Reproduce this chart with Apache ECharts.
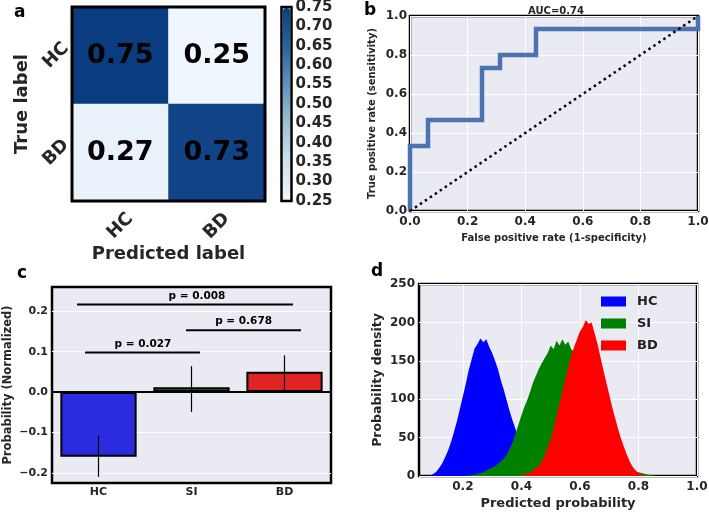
<!DOCTYPE html>
<html><head><meta charset="utf-8">
<script src="https://cdn.jsdelivr.net/npm/echarts@6/dist/echarts.min.js"></script>
<style>html,body{margin:0;padding:0;background:#fff}#c{width:709px;height:513px}</style>
</head><body><div id="c"></div>
<script>
// ---------- Panel a: confusion matrix ----------
const cmLabels = ['HC', 'BD'];
const cmRowHC = [0.75, 0.25];   // true HC -> predicted HC, BD
const cmRowBD = [0.27, 0.73];   // true BD -> predicted HC, BD
const cbMin = 0.25, cbMax = 0.75, cbStep = 0.05;

// ---------- Panel b: ROC ----------
const rocFpr = [0, 0, 0.0625, 0.0625, 0.25, 0.25, 0.3125, 0.3125, 0.4375, 0.4375, 1, 1];
const rocTpr = [0, 0.333, 0.333, 0.467, 0.467, 0.733, 0.733, 0.8, 0.8, 0.933, 0.933, 1];
const aucText = 'AUC=0.74';

// ---------- Panel c: bars ----------
const groups = ['HC', 'SI', 'BD'];
const probMeans = [-0.16, 0.012, 0.05];
const errLow = [-0.21, -0.049, 0.006];
const errHigh = [-0.108, 0.064, 0.091];
const sigText = ['p = 0.027', 'p = 0.678', 'p = 0.008'];
const sigFrom = [-0.145, 0.941, -0.231];
const sigTo = [1.091, 2.177, 2.091];
const sigLevel = [0.098, 0.153, 0.217];
const sigTextAt = [0.478, 1.56, 1.059];
const cTicks = [-0.2, -0.1, 0, 0.1, 0.2];

// ---------- Panel d: histograms ----------
const probBins = [0.08,0.09,0.10,0.11,0.12,0.13,0.14,0.15,0.16,0.17,0.18,0.19,0.20,0.21,0.22,0.23,0.24,0.25,0.26,0.27,
  0.28,0.29,0.30,0.31,0.32,0.33,0.34,0.35,0.36,0.37,0.38,0.39,0.40,0.41,0.42,0.43,0.44,0.45,0.46,0.47,
  0.48,0.49,0.50,0.51,0.52,0.53,0.54,0.55,0.56,0.57,0.58,0.59,0.60,0.61,0.62,0.63,0.64,0.65,0.66,0.67,
  0.68,0.69,0.70,0.71,0.72,0.73,0.74,0.75,0.76,0.77,0.78,0.79,0.80,0.81,0.82,0.83,0.84,0.85,0.86,0.87];
const hcDensity = [0,1,3,6,11,17,25,34,45,58,72,88,104,120,138,152,166,172,179,174,
  178,168,160,150,139,124,112,98,84,72,61,50,40,31,23,17,12,8,5,3,
  2,1,0,0,0,0,0,0,0,0,0,0,0,0,0,0,0,0,0,0,
  0,0,0,0,0,0,0,0,0,0,0,0,0,0,0,0,0,0,0,0];
const siDensity = [0,0,0,0,0,0,0,0,0,0,0,0,0,0,1,1,2,3,4,5,
  7,9,11,13,16,19,23,28,35,44,55,67,79,90,99,110,122,131,140,147,
  154,160,170,165,176,170,178,171,175,165,162,155,148,138,128,116,104,92,80,68,
  58,48,40,33,27,22,18,15,12,10,8,6,5,4,3,2,1,1,0,0];
const bdDensity = [0,0,0,0,0,0,0,0,0,0,0,0,0,0,0,0,0,0,0,0,
  0,0,0,0,0,0,0,0,0,0,0,0,1,2,3,5,7,10,14,19,
  27,37,48,62,78,94,110,127,142,156,168,178,188,194,203,198,200,186,172,155,
  138,122,106,90,76,62,49,38,28,19,12,7,4,2,1,0,0,0,0,0];
const histNames = ['HC', 'SI', 'BD'];
const dTicks = [0.2, 0.4, 0.6, 0.8, 1.0];

// ---------- styles ----------
const FF = 'DejaVu Sans';
const txt = (s, c) => ({ fontFamily: FF, fontWeight: 'bold', fontSize: s, color: c || '#262626' });
const BG = '#eaeaf2';
const WHITE_GRID = { show: true, lineStyle: { color: '#ffffff', width: 1 } };
const barColors = ['#2b2be0', '#1e7a1e', '#e02424'];
const histColors = ['#0000ff', '#008000', '#ff0000'];
const noLine = { show: false };

const heatData = [];
[cmRowHC, cmRowBD].forEach((row, i) => row.forEach((v, j) => heatData.push([j, i, v])));

const histSeries = [hcDensity, siDensity, bdDensity].map((dens, k) => ({
  type: 'line', name: histNames[k], xAxisIndex: 5, yAxisIndex: 4, symbol: 'none', color: histColors[k],
  data: probBins.map((x, i) => [x, dens[i]]),
  lineStyle: { width: 0, opacity: 0 }, areaStyle: { color: histColors[k], opacity: 1 }
}));

const chart = echarts.init(document.getElementById('c'), null, { renderer: 'canvas' });
chart.setOption({
  animation: false,
  backgroundColor: '#ffffff',
  title: [
    { text: 'a', left: 14, top: 4, padding: 0, textStyle: txt(17, '#000') },
    { text: 'b', left: 364, top: 2, padding: 0, textStyle: txt(17, '#000') },
    { text: 'c', left: 17, top: 265, padding: 0, textStyle: txt(17, '#000') },
    { text: 'd', left: 371, top: 263, padding: 0, textStyle: txt(17, '#000') },
    { text: aucText, left: 528, top: 6, padding: 0, textStyle: txt(10, '#262626') }
  ],
  grid: [
    { left: 72, top: 7, width: 193, height: 194, show: true, borderColor: '#000', borderWidth: 3, backgroundColor: 'transparent', z: 10, outerBoundsMode: 'none' },
    { left: 281.5, top: 7, width: 10, height: 194, show: true, borderColor: '#000', borderWidth: 2.5, backgroundColor: 'transparent', z: 10, outerBoundsMode: 'none' },
    { left: 410, top: 16, width: 288, height: 195, show: true, borderColor: '#000', borderWidth: 2.5, backgroundColor: BG, outerBoundsMode: 'none' },
    { left: 52, top: 287, width: 279, height: 196, show: true, borderColor: '#000', borderWidth: 2.5, backgroundColor: BG, outerBoundsMode: 'none' },
    { left: 419, top: 284, width: 278, height: 192, show: true, borderColor: '#000', borderWidth: 2.5, backgroundColor: BG, outerBoundsMode: 'none' }
  ],
  xAxis: [
    { gridIndex: 0, type: 'category', data: cmLabels, axisLine: noLine, axisTick: noLine, splitLine: noLine,
      axisLabel: Object.assign({ rotate: 45, align: 'center', verticalAlign: 'middle', margin: 25 }, txt(18)),
      name: 'Predicted label', nameLocation: 'middle', nameGap: 38, nameTextStyle: txt(18) },
    { gridIndex: 1, type: 'value', show: false, min: 0, max: 1 },
    { gridIndex: 2, type: 'value', min: 0, max: 1, interval: 0.2, axisLine: noLine, axisTick: noLine, splitLine: WHITE_GRID,
      axisLabel: Object.assign({ margin: 5, formatter: v => v.toFixed(1) }, txt(12)),
      name: 'False positive rate (1-specificity)', nameLocation: 'middle', nameGap: 22, nameTextStyle: txt(10) },
    { gridIndex: 3, type: 'category', data: groups, axisLine: noLine, axisTick: noLine, splitLine: noLine,
      axisLabel: Object.assign({ margin: 4 }, txt(11)) },
    { gridIndex: 3, type: 'value', show: false, min: -0.5, max: 2.5 },
    { gridIndex: 4, type: 'value', min: 0.05, max: 1.0, axisLine: noLine,
      axisTick: { show: false, customValues: dTicks }, splitLine: WHITE_GRID,
      axisLabel: Object.assign({ margin: 5, customValues: dTicks, formatter: v => v.toFixed(1) }, txt(12)),
      name: 'Predicted probability', nameLocation: 'middle', nameGap: 21, nameTextStyle: txt(13) }
  ],
  yAxis: [
    { gridIndex: 0, type: 'category', data: cmLabels, inverse: true, axisLine: noLine, axisTick: noLine, splitLine: noLine,
      axisLabel: Object.assign({ rotate: 45, align: 'center', verticalAlign: 'middle', margin: 16 }, txt(18)),
      name: 'True label', nameLocation: 'middle', nameGap: 41, nameRotate: 90, nameTextStyle: txt(18) },
    { gridIndex: 1, type: 'value', position: 'right', min: cbMin, max: cbMax, interval: cbStep,
      axisLine: noLine, axisTick: noLine, splitLine: noLine,
      axisLabel: Object.assign({ margin: 4, formatter: v => v.toFixed(2) }, txt(15)) },
    { gridIndex: 2, type: 'value', min: 0, max: 1, interval: 0.2, axisLine: noLine, axisTick: noLine, splitLine: WHITE_GRID,
      axisLabel: Object.assign({ margin: 3, formatter: v => v.toFixed(1) }, txt(12)),
      name: 'True positive rate (sensitivity)', nameLocation: 'middle', nameGap: 33, nameRotate: 90, nameTextStyle: txt(10) },
    { gridIndex: 3, type: 'value', min: -0.225, max: 0.26, axisLine: noLine,
      axisTick: { show: false, customValues: cTicks }, splitLine: WHITE_GRID,
      axisLabel: Object.assign({ margin: 4, customValues: cTicks, formatter: v => (v < 0 ? '\u2212' : '') + Math.abs(v).toFixed(1) }, txt(11)),
      name: 'Probability (Normalized)', nameLocation: 'middle', nameGap: 38, nameRotate: 90, nameTextStyle: txt(11.5) },
    { gridIndex: 4, type: 'value', min: 0, max: 250, interval: 50, axisLine: noLine, axisTick: noLine, splitLine: WHITE_GRID,
      axisLabel: Object.assign({ margin: 4 }, txt(12)),
      name: 'Probability density', nameLocation: 'middle', nameGap: 35, nameRotate: 90, nameTextStyle: txt(12.5) }
  ],
  visualMap: [{
    type: 'continuous', min: cbMin, max: cbMax, seriesIndex: 0, show: true, calculable: false,
    left: 283, top: 8, itemWidth: 7, itemHeight: 192, padding: 0, text: null, orient: 'vertical',
    inRange: { color: ['#f0f6fd', '#cfe0ee', '#9cc2cf', '#5f93c2', '#2a62a0', '#0a3d7f'] }
  }],
  legend: {
    data: histNames, orient: 'vertical', left: 601, top: 295, icon: 'rect', itemWidth: 25, itemHeight: 10, itemGap: 9,
    padding: 0, selectedMode: false, textStyle: Object.assign({ lineHeight: 10, padding: [0, 0, 0, 6] }, txt(13, '#222'))
  },
  series: [
    { type: 'heatmap', xAxisIndex: 0, yAxisIndex: 0, data: heatData,
      label: { show: true, formatter: p => p.value[2].toFixed(2), fontFamily: FF, fontWeight: 'bold', fontSize: 27, color: '#000' },
      emphasis: { disabled: true } },
    { type: 'line', xAxisIndex: 2, yAxisIndex: 2, data: rocFpr.map((x, i) => [x, rocTpr[i]]), symbol: 'none', clip: false,
      lineStyle: { color: '#4c72b0', width: 4.5, join: 'miter' } },
    { type: 'line', xAxisIndex: 2, yAxisIndex: 2, data: [[0, 0], [1, 1]], symbol: 'none', clip: false,
      lineStyle: { color: '#000', width: 2.5, type: [2.5, 3.5] } },
    { type: 'bar', xAxisIndex: 3, yAxisIndex: 3, barWidth: '82%',
      data: probMeans.map((v, i) => ({ value: v, itemStyle: { color: barColors[i], borderColor: '#000', borderWidth: 2 } })),
      markLine: { silent: true, symbol: 'none', label: { show: false }, lineStyle: { color: '#000', width: 2.2, type: 'solid' }, data: [{ yAxis: 0 }] } },
    { type: 'custom', xAxisIndex: 3, yAxisIndex: 3, data: groups.map((g, i) => [i, errLow[i], errHigh[i]]),
      renderItem: (params, api) => {
        const a = api.coord([api.value(0), api.value(1)]);
        const b = api.coord([api.value(0), api.value(2)]);
        return { type: 'line', shape: { x1: a[0], y1: a[1], x2: b[0], y2: b[1] }, style: { stroke: '#000', lineWidth: 1.2 } };
      }, z: 5 },
    { type: 'custom', xAxisIndex: 4, yAxisIndex: 3, data: sigText.map((t, i) => [sigFrom[i], sigTo[i], sigLevel[i], sigTextAt[i]]),
      renderItem: (params, api) => {
        const a = api.coord([api.value(0), api.value(2)]);
        const b = api.coord([api.value(1), api.value(2)]);
        const t = api.coord([api.value(3), api.value(2)]);
        return { type: 'group', children: [
          { type: 'line', shape: { x1: a[0], y1: a[1], x2: b[0], y2: b[1] }, style: { stroke: '#000', lineWidth: 2 } },
          { type: 'text', x: t[0], y: t[1] - 3, style: { text: sigText[params.dataIndex], fontFamily: FF, fontWeight: 'bold', fontSize: 10.5, fill: '#000', textAlign: 'center', textVerticalAlign: 'bottom' } }
        ] };
      }, z: 5 }
  ].concat(histSeries)
});
</script></body></html>
